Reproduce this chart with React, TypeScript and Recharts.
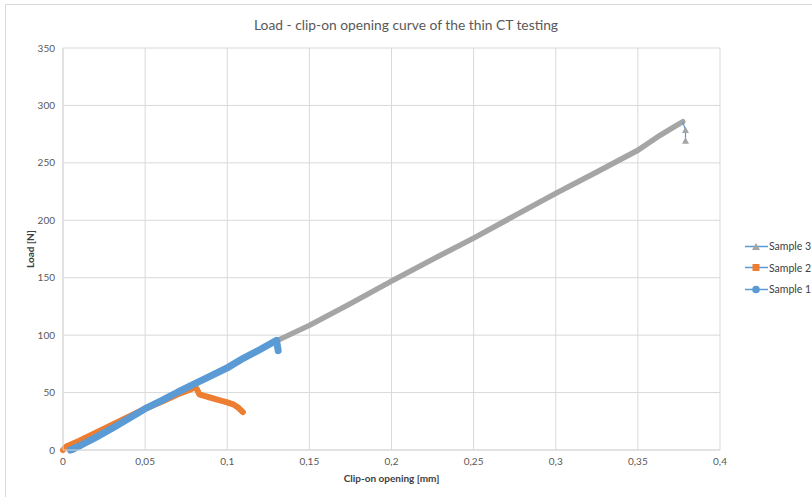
import { LineChart, Line, XAxis, YAxis, CartesianGrid } from "recharts";

// clip-on opening [mm] / load [N]
const sample1Open = [0.0045, 0.01, 0.02, 0.03, 0.04, 0.05, 0.06, 0.07, 0.08, 0.09, 0.1, 0.11, 0.12, 0.13, 0.131];
const sample1Load = [0, 3.5, 11, 19, 27.5, 36, 43, 50.5, 57.5, 64.5, 71.5, 80, 87.5, 95.5, 86.5];

const sample2Open = [0, 0.002, 0.01, 0.02, 0.03, 0.04, 0.05, 0.06, 0.07, 0.078, 0.0805, 0.0815, 0.083, 0.085, 0.09, 0.095, 0.1, 0.104, 0.107, 0.1095];
const sample2Load = [0, 3, 8, 15, 22, 29, 36, 42, 48.5, 53, 55, 53, 48.5, 47.5, 45.5, 43.5, 41.5, 39.5, 36.5, 33];

const sample3Open = [0.006, 0.05, 0.1, 0.13, 0.15, 0.175, 0.2, 0.225, 0.25, 0.275, 0.3, 0.325, 0.35, 0.3635, 0.37, 0.3773, 0.379, 0.379];
const sample3Load = [0, 36, 72, 95, 108.5, 127.5, 147, 166, 184.5, 204, 223.5, 242, 261, 274, 279.5, 285.8, 278.6, 269.3];

const xTicks = [0, 0.05, 0.1, 0.15, 0.2, 0.25, 0.3, 0.35, 0.4];
const yTicks = [0, 50, 100, 150, 200, 250, 300, 350];

const legendItems = [
  { name: "Sample 3", color: "#A5A5A5", shape: "triangle" },
  { name: "Sample 2", color: "#ED7D31", shape: "square" },
  { name: "Sample 1", color: "#5B9BD5", shape: "circle" },
];

const toPoints = (xs: number[], ys: number[]) => xs.map((x, i) => ({ x, y: ys[i] }));

const s1 = toPoints(sample1Open, sample1Load);
const s2 = toPoints(sample2Open, sample2Load);
const s3 = toPoints(sample3Open, sample3Load);
const peak3 = sample3Load.indexOf(Math.max(...sample3Load));

const FONT = "Lato, 'Liberation Sans', sans-serif";
const GRID = "#d9d9d9";
const TEXT = "#595959";

const Triangle = (props: any) => {
  const { cx, cy, index } = props;
  if (index === 0 || cx == null) return null;
  return <path d={`M${cx},${cy - 3.5} L${cx + 3.5},${cy + 3} L${cx - 3.5},${cy + 3} Z`} fill="#A5A5A5" />;
};

const Marker = ({ shape, color }: { shape: string; color: string }) => {
  if (shape === "triangle") return <path d="M11,2 L15,9 L7,9 Z" fill={color} />;
  if (shape === "square") return <rect x={7.5} y={2} width={7} height={7} fill={color} />;
  return <circle cx={11} cy={5.5} r={3.8} fill={color} />;
};

export default function App() {
  return (
    <div style={{ position: "absolute", left: 0, top: 0, width: 812, height: 497, background: "#fff", fontFamily: FONT }}>
      <div
        style={{
          position: "absolute",
          left: 5,
          top: 4,
          width: 807,
          height: 493,
          borderTop: `1px solid ${GRID}`,
          borderLeft: `1px solid ${GRID}`,
        }}
      />
      <div style={{ position: "absolute", left: 0, width: 812, top: 16, textAlign: "center", fontSize: 13.8, color: TEXT }}>
        Load - clip-on opening curve of the thin CT testing
      </div>
      <LineChart width={812} height={497} margin={{ top: 48, right: 92, bottom: 13, left: 20 }}>
        <CartesianGrid stroke={GRID} strokeWidth={1} />
        <XAxis
          type="number"
          dataKey="x"
          domain={[0, 0.4]}
          ticks={xTicks}
          tickFormatter={(v: number) => String(v).replace(".", ",")}
          tick={{ fontSize: 10, fill: TEXT, fontFamily: FONT }}
          tickLine={false}
          axisLine={{ stroke: GRID }}
          height={34}
          label={{
            value: "Clip-on opening [mm]",
            position: "insideBottom",
            offset: 2,
            style: { fontSize: 10, fontWeight: 700, fill: "#404040", fontFamily: FONT },
          }}
        />
        <YAxis
          type="number"
          domain={[0, 350]}
          ticks={yTicks}
          tick={{ fontSize: 10, fill: TEXT, fontFamily: FONT }}
          tickLine={false}
          axisLine={{ stroke: GRID }}
          width={43}
          label={{
            value: "Load [N]",
            angle: -90,
            position: "insideLeft",
            offset: 10,
            style: { textAnchor: "middle", fontSize: 10, fontWeight: 700, fill: "#404040", fontFamily: FONT },
          }}
        />
        <Line
          data={s3.slice(0, peak3 + 1)}
          dataKey="y"
          stroke="#A5A5A5"
          strokeWidth={5.5}
          dot={false}
          strokeLinecap="round"
          strokeLinejoin="round"
          isAnimationActive={false}
        />
        <Line
          data={s3.slice(peak3)}
          dataKey="y"
          stroke="#5B9BD5"
          strokeWidth={1.2}
          dot={<Triangle />}
          isAnimationActive={false}
        />
        <Line
          data={s2}
          dataKey="y"
          stroke="#ED7D31"
          strokeWidth={6}
          dot={false}
          strokeLinecap="round"
          strokeLinejoin="round"
          isAnimationActive={false}
        />
        <Line
          data={s1}
          dataKey="y"
          stroke="#5B9BD5"
          strokeWidth={7}
          dot={false}
          strokeLinecap="round"
          strokeLinejoin="round"
          isAnimationActive={false}
        />
      </LineChart>
      {legendItems.map((item, i) => (
        <div
          key={item.name}
          style={{ position: "absolute", left: 745, top: 240 + i * 21.7, display: "flex", alignItems: "center", fontSize: 10.5, color: TEXT }}
        >
          <svg width={23} height={11} style={{ display: "block" }}>
            <line x1={0} y1={5.5} x2={23} y2={5.5} stroke="#5B9BD5" strokeWidth={1.5} />
            <Marker shape={item.shape} color={item.color} />
          </svg>
          <span style={{ marginLeft: 1, color: "#404040" }}>{item.name}</span>
        </div>
      ))}
    </div>
  );
}
